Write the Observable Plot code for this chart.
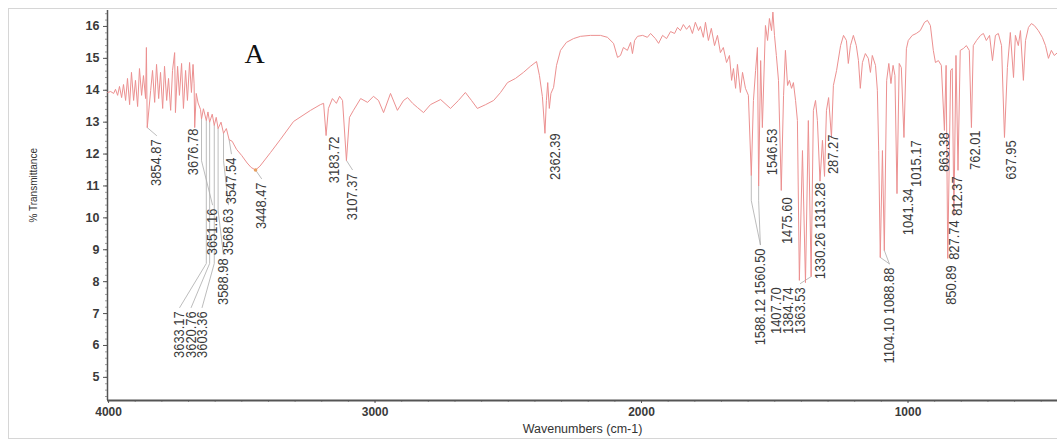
<!DOCTYPE html>
<html><head><meta charset="utf-8">
<script src="https://cdn.jsdelivr.net/npm/d3@7"></script>
<script src="https://cdn.jsdelivr.net/npm/@observablehq/plot@0.6"></script>
<style>
body{margin:0;background:#fff;}
#wrap{position:relative;width:1057px;height:441px;overflow:hidden;background:#fff;}
#border{position:absolute;left:8px;top:8px;width:1060px;height:429px;border:1px solid #d6d6d6;}
#chart{position:absolute;left:0;top:0;}
</style></head><body>
<div id="wrap"><div id="border"></div><div id="chart"></div></div>
<script>
// Spectrum (wavenumber cm-1, % transmittance)
const wavenumbers = [4003,3992,3981,3974,3966,3959,3951,3944,3936,3929,3921,3914,3906,3899,3891,3884,3876,3869,3861,3858,3854.87,3842,3835,3827,3820,3812,3805,3797,3790,3782,3775,3767,3760,3752,3749,3741,3734,3726,3719,3711,3704,3696,3689,3683,3679,3676.78,3671,3664,3655,3651.16,3644,3633.17,3627,3620.76,3611,3603.36,3596,3588.98,3578,3568.63,3558,3547.54,3536,3520,3500,3480,3465,3448.47,3432,3392,3355,3306,3242,3205,3193,3183.72,3175,3160,3145,3133,3122,3107.37,3096,3081,3054,3028,3006,2987,2968,2942,2916,2893,2878,2859,2841,2818,2792,2754,2717,2687,2661,2638,2616,2585,2555,2529,2503,2473,2443,2417,2394,2383,2372,2362.39,2357,2352,2346,2340,2330,2319,2304,2282,2255,2229,2192,2154,2128,2105,2090,2079,2068,2053,2041,2034,2026,2015,1996,1978,1966,1948,1936,1921,1906,1891,1876,1865,1854,1843,1831,1820,1809,1798,1786,1779,1768,1760,1749,1738,1726,1715,1704,1693,1681,1670,1662,1655,1647,1640,1629,1621,1610,1599,1588.12,1580,1572,1565,1560.50,1553,1546.53,1535,1527,1520,1512,1507,1501,1494,1486,1475.60,1467,1460,1452,1445,1437,1430,1422,1415,1407.70,1396,1384.74,1374,1363.53,1355,1347,1340,1330.26,1321,1313.28,1306,1298,1287.27,1280,1268,1253,1242,1231,1224,1216,1205,1194,1186,1179,1171,1160,1149,1141,1134,1122,1115,1110,1104.10,1096,1088.88,1080,1072,1064,1056,1049,1041.34,1033,1025,1015.17,1006,999,984,969,954,938,927,916,905,897,886,875,863.38,857,850.89,840,834,827.74,820,812.37,804,792,781,770,762.01,755,743,728,717,706,694,683,672,661,649,637.95,627,616,604,597,586,578,567,559,548,537,526,511,496,484,473,462,451,439];
const transmittance = [13.93,13.96,13.90,14.03,13.84,14.12,13.77,14.18,13.68,14.37,13.55,14.56,13.68,14.31,13.49,14.68,13.84,14.46,13.74,15.34,12.83,13.99,14.62,13.62,14.81,13.74,14.56,13.43,14.75,13.68,14.37,13.37,14.62,15.18,13.30,14.75,13.84,14.84,13.43,14.62,13.68,14.87,13.93,14.81,14.20,12.83,13.90,13.60,13.40,13.10,13.42,13.05,13.32,13.00,13.25,12.90,13.15,12.80,13.00,12.65,12.80,12.45,12.40,12.15,11.95,11.72,11.58,11.50,11.62,12.05,12.46,13.02,13.37,13.55,13.59,12.58,13.43,13.74,13.59,13.81,13.68,11.80,13.15,13.37,13.74,13.62,13.81,13.68,13.30,13.90,13.37,13.68,13.77,13.59,13.46,13.30,13.55,13.71,13.43,13.68,13.93,13.68,13.43,13.55,13.68,13.93,14.24,14.37,14.56,14.75,14.90,14.46,13.80,12.65,13.68,14.24,13.43,13.90,14.09,14.78,15.25,15.50,15.62,15.69,15.72,15.72,15.66,15.47,15.03,15.09,15.34,15.25,15.50,15.15,15.56,15.69,15.72,15.66,15.78,15.62,15.47,15.72,15.62,15.84,15.78,15.97,15.87,16.06,15.91,16.03,15.78,16.13,15.87,16.00,15.66,16.13,15.56,15.94,15.40,15.72,15.18,15.34,14.87,15.09,14.31,14.68,14.06,14.81,13.93,14.56,14.06,13.84,11.33,13.68,14.62,15.34,11.00,14.93,12.83,16.03,15.56,16.25,15.87,16.45,15.72,15.09,14.31,10.86,13.84,15.25,14.15,14.31,14.06,14.24,13.68,13.05,8.04,12.11,7.97,13.05,8.16,13.37,13.68,13.05,11.15,12.43,11.30,13.37,13.77,12.52,14.15,14.62,15.40,15.72,15.56,14.84,15.40,15.72,15.40,14.93,14.06,14.87,15.15,15.00,14.56,15.09,14.78,14.00,12.11,8.76,12.11,8.98,14.31,14.84,14.21,14.78,14.46,10.76,14.84,14.71,12.52,15.30,15.56,15.72,15.78,15.87,16.13,16.19,16.03,15.25,14.87,14.93,14.78,12.74,14.78,8.73,14.62,14.68,10.07,15.09,11.49,15.25,15.31,15.40,15.25,12.83,15.40,15.56,15.72,15.78,15.56,15.72,14.93,15.72,15.78,15.40,12.52,14.71,15.81,14.40,15.72,15.40,15.87,14.31,15.56,15.97,16.09,16.03,15.87,15.66,15.40,15.00,15.25,15.09,15.18];

// Peak annotations
const peakLabels = ["3854.87","3676.78","3651.16","3633.17","3620.76","3603.36","3588.98","3568.63","3547.54","3448.47","3183.72","3107.37","2362.39","1546.53","1588.12 1560.50","1475.60","1407.70","1384.74","1363.53","1330.26 1313.28","287.27","1104.10 1088.88","1041.34","1015.17","863.38","850.89","827.74","812.37","762.01","637.95"];
const peakWavenumbers = [[3854.87],[3676.78],[3651.16],[3633.17],[3620.76],[3603.36],[3588.98],[3568.63],[3547.54],[3448.47],[3183.72],[3107.37],[2362.39],[1546.53],[1588.12,1560.50],[1475.60],[1407.70],[1384.74],[1363.53],[1330.26,1313.28],[1287.27],[1104.10,1088.88],[1041.34],[1015.17],[863.38],[850.89],[827.74],[812.37],[762.01],[637.95]];
const labelWavenumbers = [3820,3680,3610,3733,3690,3649,3569,3550,3539,3426,3152,3085,2323,1509,1554,1452,1494,1449,1404,1329,1280,1070,998,968,863,837,826,815,747,612];
const labelTops = [12.46,12.80,10.29,7.07,7.07,7.07,8.73,10.29,11.89,11.11,12.55,11.39,12.65,12.80,9.04,10.64,7.82,7.82,7.82,11.11,12.61,8.44,10.92,12.43,12.68,8.51,9.92,11.30,12.74,12.43];
const markedPeak = [3448.47];

const yTicks = [5,6,7,8,9,10,11,12,13,14,15,16];
const xTicks = [4000,3000,2000,1000];
const panelLetter = "A";
const panelPos = {w: 3452, t: 15.15};

const spectrum = wavenumbers.map((w, i) => ({w, t: transmittance[i]}));
const depth = w => transmittance[wavenumbers.indexOf(w)];

const leaders = [];
peakLabels.forEach((lab, i) => {
  const lw = labelWavenumbers[i], lt = labelTops[i];
  peakWavenumbers[i].forEach((pw, j) => {
    const pt = depth(pw);
    const endT = lt + 0.12;
    if (!(pt > endT + 0.2)) return;
    const id = i + "-" + j;
    leaders.push({id, w: pw, t: pt});
    const elbow = lt + 1.5;
    if (elbow < pt - 0.1) leaders.push({id, w: pw, t: elbow});
    leaders.push({id, w: lw, t: endT});
  });
});
const labelRows = peakLabels.map((text, i) => ({text, w: labelWavenumbers[i], t: labelTops[i]}));
const markRows = markedPeak.map(w => ({w, t: depth(w)}));

const minorY = d3.range(22, 83).map(i => i / 5);
const minorX = d3.range(5, 41).map(i => i * 100);

const chart = Plot.plot({
  width: 1057, height: 441,
  marginLeft: 107, marginRight: 0, marginTop: 10, marginBottom: 41,
  style: {fontFamily: "'Liberation Sans', Arial, sans-serif", fontSize: "12px", color: "#333", background: "transparent", overflow: "visible"},
  x: {domain: [4004, 439], axis: null},
  y: {domain: [4.275, 16.5], axis: null},
  marks: [
    Plot.axisY(minorY, {tickSize: 2, text: null, label: null, stroke: "#777", strokeWidth: 0.7}),
    Plot.axisY(yTicks, {tickSize: 4, tickPadding: 4, label: null, fontSize: 12.5, fontWeight: 600, fill: "#3a3a3a", stroke: "#555"}),
    Plot.axisX(minorX, {tickSize: 2, text: null, label: null, stroke: "#777", strokeWidth: 0.7}),
    Plot.axisX(xTicks, {tickSize: 3, tickPadding: 4, label: null, tickFormat: "d", fontSize: 12, fontWeight: 600, fill: "#3a3a3a", stroke: "#555"}),
    Plot.ruleX([4004], {stroke: "#555", strokeWidth: 1.5}),
    Plot.ruleY([4.275], {stroke: "#555", strokeWidth: 2}),
    Plot.line(leaders, {x: "w", y: "t", z: "id", stroke: "#ababab", strokeWidth: 0.8}),
    Plot.line(spectrum, {x: "w", y: "t", stroke: "#ec9090", strokeWidth: 1, clip: true}),
    Plot.dot(markRows, {x: "w", y: "t", r: 1.8, fill: "#e8a060", stroke: null}),
    Plot.text(labelRows, {x: "w", y: "t", text: "text", rotate: -90, textAnchor: "end", lineAnchor: "middle",
      fontSize: 14.5, fontFamily: "'Liberation Sans Narrow', 'Arial Narrow', 'Liberation Sans', sans-serif", fill: "#3a3a3a", className: "peaklbl"}),
    Plot.text([panelLetter], {x: () => panelPos.w, y: () => panelPos.t, fontSize: 28, fontFamily: "'Liberation Serif', 'Times New Roman', serif", fill: "#111"}),
    Plot.text(["Wavenumbers (cm-1)"], {frameAnchor: "bottom", dy: 32, fontSize: 12.5, fill: "#333"}),
    Plot.text(["% Transmittance"], {frameAnchor: "left", dx: -74, dy: 17, rotate: -90, fontSize: 10, fill: "#333"})
  ]
});
// condense the rotated peak labels along their reading direction (narrow-font look)
d3.select(chart).selectAll("g.peaklbl text").attr("transform", function() {
  return (this.getAttribute("transform") || "") + " scale(0.89,1)";
});
document.getElementById("chart").appendChild(chart);
</script>
</body></html>
